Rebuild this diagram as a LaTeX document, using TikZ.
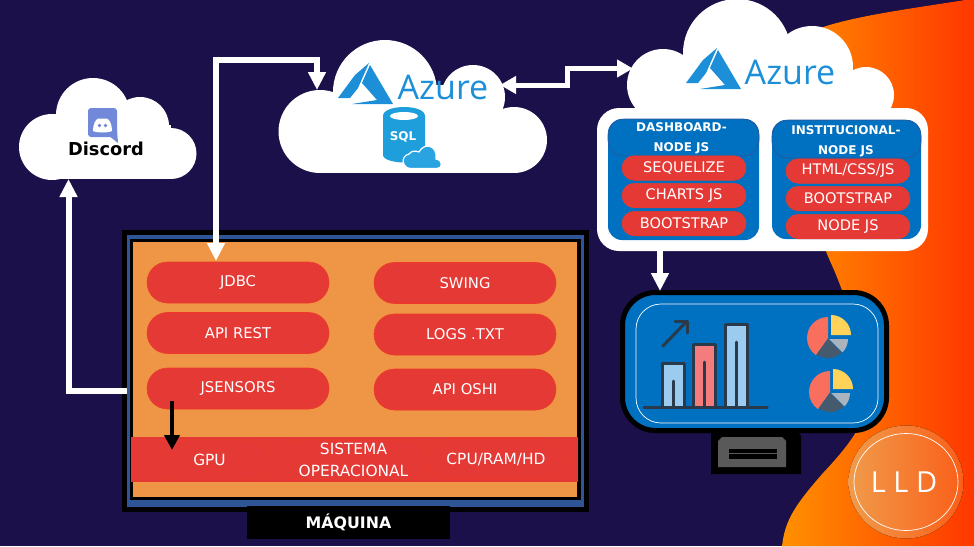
\documentclass[tikz,border=0pt]{standalone}
\usepackage{fontspec}
\setmainfont{DejaVu Sans}
\newfontfamily\logofont{Open Sans}
\usetikzlibrary{shapes.misc,arrows.meta}
\definecolor{bgnavy}{HTML}{1B1049}
\definecolor{machorange}{HTML}{EE9645}
\definecolor{pillred}{HTML}{E53935}
\definecolor{pilledge}{HTML}{EE3A2A}
\definecolor{azblue}{HTML}{0070C0}
\definecolor{azlogo}{HTML}{1C8FD8}
\definecolor{ringblue}{HTML}{2F5597}
\definecolor{chartdark}{HTML}{2B3A4A}
\definecolor{barblue}{HTML}{9BCBEE}
\definecolor{barred}{HTML}{F47C7C}
\definecolor{pieyellow}{HTML}{FFD25A}
\definecolor{piegray}{HTML}{A9B4BE}
\definecolor{piedark}{HTML}{465A6E}
\definecolor{piered}{HTML}{F96F5D}
\definecolor{discordblue}{HTML}{7289DA}
\definecolor{sqlblue}{HTML}{1E9FDB}
\definecolor{sqlcloudblue}{HTML}{2AA4E0}
\definecolor{standgray}{HTML}{595959}
\definecolor{swooshleft}{HTML}{FF9100}
\definecolor{swooshright}{HTML}{FF3700}
\definecolor{badgeleft}{HTML}{F09B4B}
\definecolor{badgeright}{HTML}{FA5F19}
\tikzset{
  pillbig/.style={rounded rectangle,fill=pillred,draw=pilledge,line width=.6pt,minimum width=182pt,minimum height=41pt,inner sep=0pt,text=white,font=\fontsize{14.8}{16}\selectfont},
  pillsmall/.style={rounded rectangle,fill=pillred,draw=pilledge,line width=.5pt,minimum width=124pt,minimum height=24.5pt,inner sep=0pt,text=white,font=\fontsize{14.6}{16}\selectfont},
  pillband/.style={rounded rectangle,draw=pilledge,line width=.6pt,minimum height=40pt,inner sep=0pt,text=white,align=center,font=\fontsize{15.4}{21.5}\selectfont},
  headtext/.style={text=white,align=center,font=\fontsize{12}{20}\selectfont\bfseries},
  wirewhite/.style={draw=white,line width=6pt,-{Triangle[length=18pt,width=17pt]}},
  wiretwin/.style={draw=white,line width=6pt,{Triangle[length=18pt,width=17pt]}-{Triangle[length=18pt,width=17pt]}},
  wiredouble/.style={draw=white,line width=5pt,{Triangle[length=16pt,width=17pt]}-{Triangle[length=16pt,width=17pt]}},
  wireblack/.style={draw=black,line width=4.5pt,-{Triangle[length=15pt,width=15pt]}},
  azuretext/.style={text=azlogo,inner sep=0pt,font=\fontsize{34}{34}\logofont},
  barline/.style={draw=chartdark,line width=3pt,line cap=round,line join=round},
  ghostbox/.style={inner sep=0pt},
}
\newcommand\azurelogo[2]{%
  \begin{scope}[shift={(#1,#2)}]
    \fill[azlogo] (338,98) -- (355,75) -- (369,63) -- (358,88) -- (350,98) -- cycle;
    \fill[azlogo] (370,65) -- (393,104) -- (352,104) -- (377,100) -- (362,83) -- cycle;
  \end{scope}}
\newcommand\piechart[2]{%
  \begin{scope}[shift={(#1,#2)},yscale=-1]
    \fill[piered] (0,0) -- (90:21) arc (90:235:21) -- cycle;
    \fill[piedark] (0,-1) -- (235:20) arc (235:313:20) -- cycle;
    \fill[piegray] (1,-1) -- ++(-45:19) arc (-45:0:19) -- cycle;
    \fill[pieyellow] (3,3) -- ++(90:20) arc (90:0:20) -- cycle;
  \end{scope}}
\newcommand\chartbar[5]{% x1 x2 top inner-top colour
  \fill[#5] (#1,#3) rectangle (#2,407);
  \draw[barline] (#1,407) -- (#1,#3) -- (#2,#3) -- (#2,407);
  \draw[barline] ({(#1+#2)/2},407) -- ({(#1+#2)/2},#4);}
\newcommand\lobe[3]{\fill[white] (#1,#2) circle (#3);}
\begin{document}
\begin{tikzpicture}[x=1pt,y=-1pt]
\useasboundingbox (0,0) rectangle (974,546);
\fill[bgnavy] (0,0) rectangle (974,546);
% orange swoosh
\fill[left color=swooshleft,right color=swooshright]
  (782,546) .. controls (785,520) and (795,505) .. (823,473)
  .. controls (840,455) and (850,442) .. (856,432)
  .. controls (875,390) and (855,320) .. (834,270)
  .. controls (825,250) and (820,240) .. (815,200)
  .. controls (810,120) and (780,70) .. (823,27)
  .. controls (860,15) and (915,8) .. (965,0)
  -- (974,0) -- (974,546) -- cycle;
% Discord cloud
\lobe{52}{147}{33}\lobe{93}{115}{37}\lobe{140}{126}{29}\lobe{171}{153.5}{25.5}
\fill[white] (52,125) rectangle (171,179);
\node[ghostbox,minimum width=178pt,minimum height=101pt] (discordcloud) at (108,128.5) {};
\fill[rounded corners=3pt,discordblue] (88,108) rectangle (117,137);
\fill[discordblue] (108,135) -- (118,143) -- (117,130) -- cycle;
\fill[white] (93,131) .. controls (93,125) and (95,120) .. (98,118.5) -- (107,118.5)
  .. controls (110,120) and (112,125) .. (112,131) .. controls (108,133) and (97,133) .. (93,131) -- cycle;
\fill[discordblue] (99.5,125.5) circle (1.9);
\fill[discordblue] (105.5,125.5) circle (1.9);
\node[inner sep=0pt,text=black,font=\fontsize{17.8}{20}\selectfont\bfseries] (discordlabel) at (106,148.5) {Discord};
% Azure SQL cloud
\lobe{320}{131.5}{41.5}\lobe{385}{92}{52}\lobe{473}{97}{32}\lobe{514}{140}{33}
\fill[white] (320,110) rectangle (514,173);
\fill[white] (385,85) rectangle (473,120);
\node[ghostbox,minimum width=269pt,minimum height=133pt] (sqlcloud) at (412.5,106.5) {};
\azurelogo{0}{0}
\node[azuretext] (azuresql) at (443,87.5) {Azure};
% SQL icon
\fill[sqlblue] (383,116) -- (383,155) .. controls (383,160) and (395,162.5) .. (404,162.5)
  .. controls (413,162.5) and (425,160) .. (425,155) -- (425,116)
  .. controls (425,104) and (383,104) .. (383,116) -- cycle;
\fill[white] (404,116) ellipse (14 and 4);
\node[inner sep=0pt,text=white,font=\fontsize{12}{14}\selectfont\bfseries] (sqllabel) at (403,137) {SQL};
\fill[sqlcloudblue,draw=white,line width=1.2pt]
  (411,168.5) .. controls (402,168.5) and (400,156) .. (409,154)
  .. controls (412,150) and (416,151) .. (419,152)
  .. controls (424,142) and (438,145) .. (436,159)
  .. controls (443,160) and (443,168.5) .. (437,168.5) -- cycle;
% Azure web cloud
\lobe{663}{85}{36}\lobe{737}{53}{54}\lobe{812}{67}{41}\lobe{866}{95}{28}
\fill[white] (663,70) rectangle (866,130);
\node[ghostbox,minimum width=267pt,minimum height=130pt] (webcloud) at (760.5,65) {};
\fill[white,rounded corners=22pt] (597,108) rectangle (928,251);
\node[ghostbox,minimum width=331pt,minimum height=143pt] (webpanel) at (762.5,179.5) {};
\azurelogo{348}{-15}
\node[azuretext] (azureweb) at (790,72.5) {Azure};
% blue panels
\fill[azblue,rounded corners=14pt] (608,119) rectangle (759,240);
\filldraw[fill=azblue,draw=ringblue,line width=.6pt,rounded corners=16pt] (608,119) rectangle (759,156);
\fill[azblue,rounded corners=14pt] (772,120) rectangle (921,239);
\filldraw[fill=azblue,draw=ringblue,line width=.6pt,rounded corners=16pt] (772,120) rectangle (921,158);
\node[headtext] (dashhead) at (681.5,138) {DASHBOARD-\\NODE JS};
\node[headtext] (insthead) at (846,141) {INSTITUCIONAL-\\NODE JS};
\node[pillsmall] (sequelize) at (684,168) {SEQUELIZE};
\node[pillsmall] (chartsjs) at (684,195.5) {CHARTS JS};
\node[pillsmall] (bootstrapa) at (684,223.5) {BOOTSTRAP};
\node[pillsmall] (htmlcss) at (848,171) {HTML/CSS/JS};
\node[pillsmall] (bootstrapb) at (848,198.5) {BOOTSTRAP};
\node[pillsmall] (nodejs) at (848,226.5) {NODE JS};
% Monitor
\fill[black] (711,433) -- (716,429) -- (796,429) -- (801,436) -- (801,474) -- (711,474) -- cycle;
\fill[standgray] (718,467) -- (718,441) -- (722,437) -- (782,437) -- (786,441) -- (786,467) -- cycle;
\fill[black] (729,449) rectangle (777,459);
\fill[standgray] (729,453.3) rectangle (777,454.4);
\node[draw=black,line width=5pt,fill=azblue,rounded corners=33pt,minimum width=264pt,minimum height=138pt,inner sep=0pt] (monitor) at (754.5,361.5) {};
\draw[white,line width=.7pt,rounded corners=25pt] (636,304) rectangle (878,423);
\chartbar{662}{684}{363}{381}{barblue}
\chartbar{693}{715}{344}{362}{barred}
\chartbar{725}{747}{324}{342}{barblue}
\draw[barline] (644,407) -- (767,407);
\draw[barline] (663,346) -- (687,321);
\draw[barline] (675,321) -- (687,321) -- (687,333);
\piechart{828}{338}
\piechart{830}{392}
% LLD badge
\fill[left color=badgeleft,right color=badgeright] (906,482) ellipse (57.5 and 56.5);
\draw[white,line width=.7pt] (906,482) ellipse (52 and 48.5);
\node[inner sep=0pt,text=white,font=\fontsize{29}{30}\logofont] (lld) at (904,482) {L L D};
% Machine
\fill[black] (122,230) rectangle (589,512);
\fill[ringblue] (127,235) rectangle (584,507);
\fill[black] (130,239) rectangle (581,500);
\node[fill=machorange,inner sep=0pt,minimum width=444pt,minimum height=255pt] (machine) at (355,369.5) {};
\fill[pillred] (131,437) rectangle (578,482);
\node[pillbig] (jdbc) at (238,282.5) {JDBC};
\node[pillbig] (apirest) at (238,333) {API REST};
\node[pillbig] (jsensors) at (238,388.5) {JSENSORS};
\node[pillbig] (swing) at (465,283) {SWING};
\node[pillbig] (logs) at (465,334.5) {LOGS .TXT};
\node[pillbig] (apioshi) at (465,389.5) {API OSHI};
\node[pillband,minimum width=125pt] (gpu) at (209.5,460) {GPU};
\node[pillband,minimum width=153pt] (sistema) at (353.5,460) {SISTEMA\\OPERACIONAL};
\node[pillband,minimum width=138pt] (cpu) at (496,459) {CPU/RAM/HD};
\node[fill=black,inner sep=0pt,minimum width=203pt,minimum height=33pt,text=white,font=\fontsize{15.8}{18}\selectfont\bfseries] (maquina) at (348.5,522.5) {MÁQUINA};
% connectors
\coordinate (jdbctip) at (216,261);
\coordinate (sqltip) at (317,90);
\coordinate (sqltop) at (317,60);
\coordinate (sqlright) at (500,85);
\coordinate (webleft) at (633,68.5);
\coordinate (machleft) at (127,390.5);
\coordinate (discordtip) at (68.5,179);
\coordinate (paneldown) at (660,251);
\coordinate (monitortip) at (660,291);
\coordinate (blackstart) at (172,401);
\coordinate (blacktip) at (172,450);
\draw[wiretwin] (jdbctip) |- (sqltop) -- (sqltip);
\draw[wiredouble] (sqlright) -- (567,85) -- (567,68.5) -- (webleft);
\draw[wirewhite] (machleft) -| (discordtip);
\draw[wirewhite] (paneldown) -- (monitortip);
\draw[wireblack] (blackstart) -- (blacktip);
\end{tikzpicture}
\end{document}
